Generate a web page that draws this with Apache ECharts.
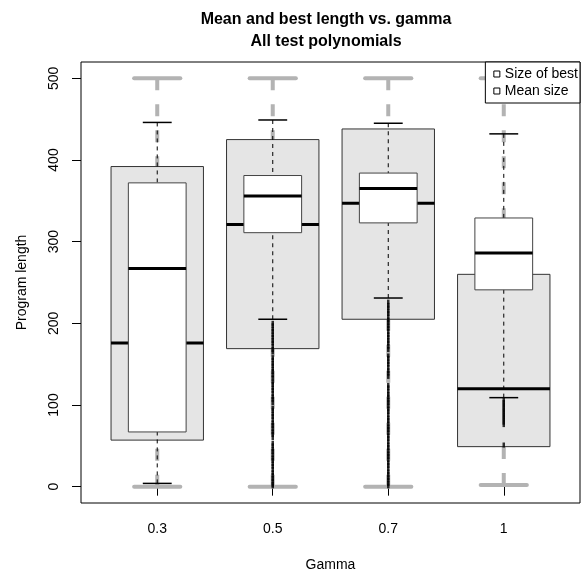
<!DOCTYPE html>
<html>
<head>
<meta charset="utf-8">
<script src="https://cdn.jsdelivr.net/npm/echarts@6/dist/echarts.min.js"></script>
<style>
  html, body { margin: 0; padding: 0; background: #fff; }
  #chart { width: 584px; height: 572px; }
</style>
</head>
<body>
<div id="chart"></div>
<script>
// gamma groups on the x axis
const gammaLabels = ['0.3', '0.5', '0.7', '1']
const yTicks = [0, 100, 200, 300, 400, 500]

// boxplot stats per group: [lower whisker, Q1, median, Q3, upper whisker]
const bestStats = [
  [0, 57, 176, 392, 500],
  [0, 169, 321, 425, 500],
  [0, 205, 347, 438, 500],
  [2, 49, 120, 260, 500]
]
const meanStats = [
  [4, 67, 267, 372, 446],
  [205, 311, 356, 381, 449],
  [231, 323, 365, 384, 445],
  [109, 241, 286, 329, 432]
]

// outliers of "Mean size" (they pile up into a near-solid line)
const meanOutliers05 = [200, 197, 193, 190, 186, 183, 179, 176, 172, 168, 165, 158, 155, 151, 148, 144, 141, 137, 133, 128, 125, 121, 118, 114, 110, 107, 103, 96, 93, 89, 86, 82, 78, 75, 71, 67, 64, 60, 53, 50, 46, 43, 39, 35, 32, 28, 25, 21, 17, 14, 10, 7, 3, 1]
const meanOutliers07 = [226, 222, 219, 215, 212, 208, 204, 201, 197, 194, 190, 186, 183, 179, 176, 172, 168, 160, 157, 153, 150, 146, 142, 139, 135, 124, 121, 117, 113, 110, 106, 103, 99, 95, 92, 88, 84, 81, 77, 73, 70, 66, 62, 59, 55, 51, 48, 44, 40, 37, 33, 29, 26, 22, 18, 15, 11, 8, 4, 1]
const meanOutliers1 = [106, 103, 100, 97, 94, 91, 88, 85, 82, 79, 76, 51]

const chart = echarts.init(document.getElementById('chart'))

function boxSeries(name, stats, o) {
  return {
    type: 'custom',
    name: name,
    data: stats.map((s, i) => [i + 1].concat(s)),
    encode: { x: 0, y: [1, 2, 3, 4, 5] },
    z: o.z,
    renderItem: function (params, api) {
      const x = api.value(0)
      const p = [1, 2, 3, 4, 5].map(d => api.coord([x, api.value(d)]))
      const cx = p[0][0]
      const hw = api.size([1, 0])[0] * o.wex / 2
      const cw = hw / 2
      const ws = { stroke: o.whisker, lineWidth: o.whiskerWidth, lineDash: o.dash, fill: null }
      const cs = { stroke: o.whisker, lineWidth: o.capWidth, lineCap: o.capCap, fill: null }
      return {
        type: 'group',
        children: [
          // whiskers run from the cap towards the box, like R does
          { type: 'line', shape: { x1: cx, y1: p[4][1], x2: cx, y2: p[3][1] }, style: ws },
          { type: 'line', shape: { x1: cx, y1: p[0][1], x2: cx, y2: p[1][1] }, style: ws },
          { type: 'line', shape: { x1: cx - cw, y1: p[4][1], x2: cx + cw, y2: p[4][1] }, style: cs },
          { type: 'line', shape: { x1: cx - cw, y1: p[0][1], x2: cx + cw, y2: p[0][1] }, style: cs },
          { type: 'rect', shape: { x: cx - hw, y: p[3][1], width: hw * 2, height: p[1][1] - p[3][1] },
            style: { fill: o.fill, stroke: o.border, lineWidth: 1 } },
          { type: 'line', shape: { x1: cx - hw, y1: p[2][1], x2: cx + hw, y2: p[2][1] },
            style: { stroke: '#000', lineWidth: 3 } }
        ]
      }
    }
  }
}

function outlierData(x, vals) { return vals.map(v => [x, v]) }

chart.setOption({
  animation: false,
  textStyle: { fontFamily: 'Liberation Sans, Arial, sans-serif', color: '#000' },
  title: {
    text: 'Mean and best length vs. gamma\nAll test polynomials',
    left: 321, top: 4, textAlign: 'center',
    textStyle: { fontSize: 16, fontWeight: 'bold', lineHeight: 22, color: '#000', fontFamily: 'Liberation Sans, Arial, sans-serif' }
  },
  legend: {
    data: [
      { name: 'Size of best', icon: 'rect', itemStyle: { color: '#fff', borderColor: '#000', borderWidth: 1 } },
      { name: 'Mean size', icon: 'rect', itemStyle: { color: '#fff', borderColor: '#000', borderWidth: 1 } }
    ],
    orient: 'vertical', right: 4, top: 62,
    itemWidth: 6, itemHeight: 6, itemGap: 1,
    padding: [4, 2, 4, 8],
    borderColor: '#000', borderWidth: 1, backgroundColor: '#fff',
    textStyle: { fontSize: 14, lineHeight: 16, color: '#000' }
  },
  grid: {
    left: 81, right: 4, top: 62, bottom: 69, outerBoundsMode: 'none',
    show: true, borderColor: '#000', borderWidth: 1
  },
  xAxis: {
    type: 'value', min: 0.34, max: 4.66,
    name: 'Gamma', nameLocation: 'middle', nameGap: 55,
    nameTextStyle: { fontSize: 14, color: '#000' },
    splitLine: { show: false },
    axisLine: { show: false },
    axisTick: { customValues: [1, 2, 3, 4], length: 9, lineStyle: { color: '#000' } },
    axisLabel: { customValues: [1, 2, 3, 4], formatter: v => gammaLabels[v - 1], margin: 19, fontSize: 14, color: '#000' }
  },
  yAxis: {
    type: 'value', min: -20, max: 520,
    name: 'Program length', nameLocation: 'middle', nameGap: 52,
    nameTextStyle: { fontSize: 14, color: '#000' },
    splitLine: { show: false },
    axisLine: { show: false },
    axisTick: { customValues: yTicks, length: 9, lineStyle: { color: '#000' } },
    axisLabel: { customValues: yTicks, rotate: 90, margin: 20, fontSize: 14, color: '#000' }
  },
  series: [
    boxSeries('Size of best', bestStats, {
      z: 2, wex: 0.8, fill: '#e5e5e5', border: '#333', whisker: '#b3b3b3',
      whiskerWidth: 4, dash: [12, 14], capWidth: 4, capCap: 'round'
    }),
    boxSeries('Mean size', meanStats, {
      z: 3, wex: 0.5, fill: '#fff', border: '#444', whisker: '#000',
      whiskerWidth: 1, dash: [4, 4], capWidth: 1.5, capCap: 'butt'
    }),
    {
      type: 'scatter', name: 'outliers', z: 4, silent: true,
      symbol: 'rect', symbolSize: [2.5, 5],
      itemStyle: { color: '#000' },
      data: outlierData(2, meanOutliers05)
        .concat(outlierData(3, meanOutliers07))
        .concat(outlierData(4, meanOutliers1))
    }
  ]
})
</script>
</body>
</html>
